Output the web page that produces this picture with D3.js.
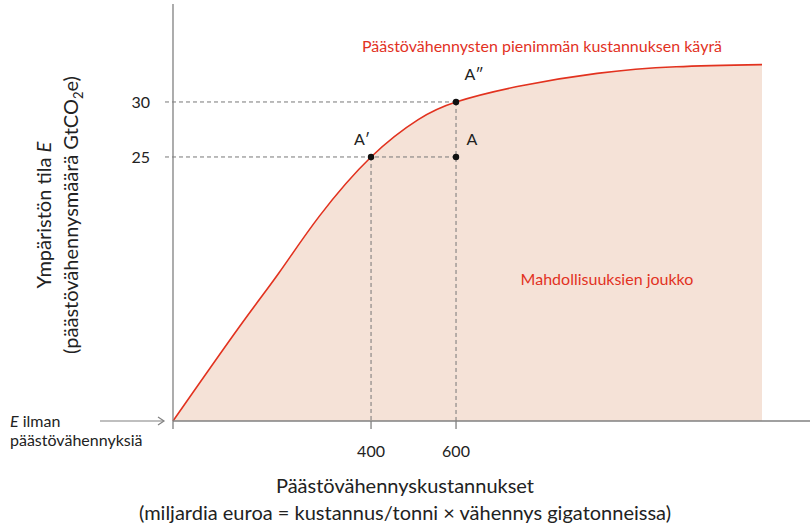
<!DOCTYPE html>
<html><head><meta charset="utf-8">
<script src="https://cdn.jsdelivr.net/npm/d3@7"></script>
<style>body{margin:0;background:#fff}text{font-family:Lato,"Noto Sans",sans-serif}</style>
</head><body><svg id="c" width="810" height="525"></svg>
<script>
const curveX = [-66, 89, 184, 278, 400, 511, 600, 744, 932, 1118, 1320];
const curveY = [1, 9.5, 14.5, 19.6, 25, 28.4, 30, 31.4, 32.6, 33.2, 33.4];
const xTicks = [400, 600];
const yTicks = [25, 30];
const points = [{x:400,y:25,l:"A′",dx:-9,dy:-12},{x:600,y:30,l:"A″",dx:18,dy:-22},{x:600,y:25,l:"A",dx:16,dy:-12}];

const svg = d3.select("#c");
const x = d3.scaleLinear().domain([-66,1320]).range([173,762]);
const y = d3.scaleLinear().domain([1,38.27]).range([421,11]);
const pts = curveX.map((v,i)=>[v,curveY[i]]);
const grey="#808080", red="#e2321f";

svg.append("path").datum(pts).attr("fill","#f5e2d7")
  .attr("d",d3.area().x(d=>x(d[0])).y0(y(1)).y1(d=>y(d[1])).curve(d3.curveNatural));
svg.append("path").datum(pts).attr("fill","none").attr("stroke",red).attr("stroke-width",1.6)
  .attr("d",d3.line().x(d=>x(d[0])).y(d=>y(d[1])).curve(d3.curveNatural));

const dash = (x1,y1,x2,y2)=>svg.append("line").attr("x1",x1).attr("y1",y1).attr("x2",x2).attr("y2",y2)
  .attr("stroke","#777").attr("stroke-dasharray","4,3").attr("stroke-width",1);
dash(165,y(30),x(600),y(30));
dash(165,y(25),x(600),y(25));
dash(x(400),y(25),x(400),y(1));
dash(x(600),y(30),x(600),y(1));

svg.append("line").attr("x1",173).attr("y1",4).attr("x2",173).attr("y2",429).attr("stroke",grey).attr("stroke-width",1.3);
svg.append("line").attr("x1",173).attr("y1",421).attr("x2",810).attr("y2",421).attr("stroke",grey).attr("stroke-width",1.3);
xTicks.forEach(t=>{
  svg.append("line").attr("x1",x(t)).attr("x2",x(t)).attr("y1",421).attr("y2",429).attr("stroke",grey).attr("stroke-width",1.3);
  svg.append("text").attr("x",x(t)).attr("y",457).attr("text-anchor","middle").attr("font-size",16).attr("fill","#222").text(t);
});
yTicks.forEach(t=>{
  svg.append("text").attr("x",150).attr("y",y(t)+6).attr("text-anchor","end").attr("font-size",16).attr("fill","#222").text(t);
});

points.forEach(p=>{
  svg.append("circle").attr("cx",x(p.x)).attr("cy",y(p.y)).attr("r",3.2).attr("fill","#111");
  svg.append("text").attr("x",x(p.x)+p.dx).attr("y",y(p.y)+p.dy).attr("text-anchor","middle").attr("font-size",16).attr("fill","#222").text(p.l);
});

svg.append("text").attr("x",542).attr("y",52).attr("text-anchor","middle").attr("font-size",16).attr("fill",red).text("Päästövähennysten pienimmän kustannuksen käyrä");
svg.append("text").attr("x",607).attr("y",285).attr("text-anchor","middle").attr("font-size",16).attr("fill",red).text("Mahdollisuuksien joukko");

svg.append("line").attr("x1",100).attr("x2",163).attr("y1",421).attr("y2",421).attr("stroke",grey).attr("stroke-width",1.2);
svg.append("path").attr("d","M158,417 L164,421 L158,425").attr("fill","none").attr("stroke",grey).attr("stroke-width",1.2);
const e = svg.append("text").attr("x",10).attr("y",427).attr("font-size",16).attr("fill","#222");
e.append("tspan").attr("font-style","italic").text("E");
e.append("tspan").text(" ilman");
svg.append("text").attr("x",10).attr("y",446).attr("font-size",16).attr("fill","#222").text("päästövähennyksiä");

svg.append("text").attr("x",405).attr("y",493).attr("text-anchor","middle").attr("font-size",20).attr("fill","#222").text("Päästövähennyskustannukset");
svg.append("text").attr("x",405).attr("y",520).attr("text-anchor","middle").attr("font-size",20).attr("fill","#222").text("(miljardia euroa = kustannus/tonni × vähennys gigatonneissa)");
const g = svg.append("g").attr("transform","translate(0,215) rotate(-90)");
const t1 = g.append("text").attr("x",0).attr("y",51).attr("text-anchor","middle").attr("font-size",20).attr("fill","#222");
t1.append("tspan").text("Ympäristön tila ");
t1.append("tspan").attr("font-style","italic").text("E");
const t2 = g.append("text").attr("x",0).attr("y",78).attr("text-anchor","middle").attr("font-size",20).attr("fill","#222");
t2.append("tspan").text("(päästövähennysmäärä GtCO");
t2.append("tspan").attr("font-size",13).attr("dy",5).text("2");
t2.append("tspan").attr("dy",-5).text("e)");
</script></body></html>
